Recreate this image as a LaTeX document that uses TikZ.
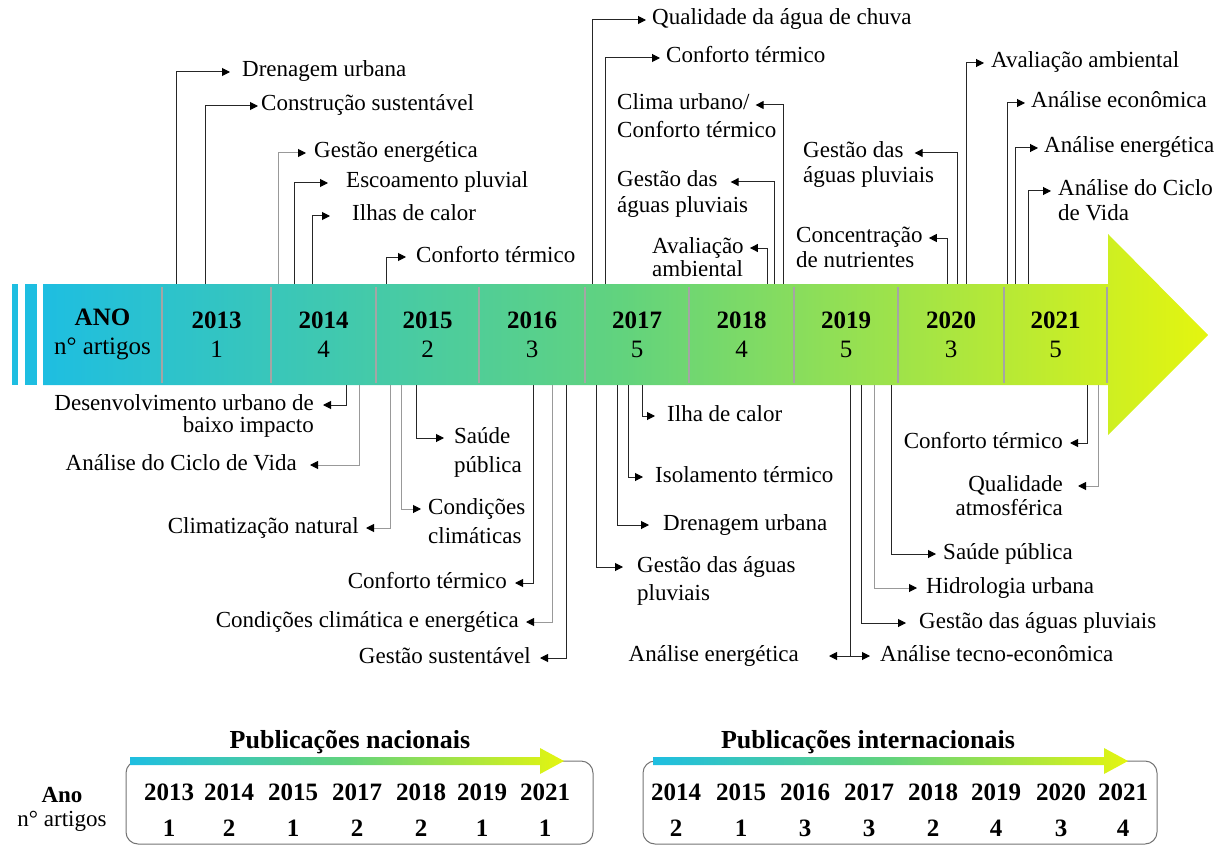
\documentclass[tikz,border=0pt]{standalone}
\usepackage{fontspec}
\setmainfont{Liberation Serif}
\usetikzlibrary{arrows.meta}
\definecolor{gA}{RGB}{30,190,225}
\definecolor{gB}{RGB}{98,211,125}
\definecolor{gC}{RGB}{228,245,15}
\definecolor{sepgray}{RGB}{165,165,165}
\begin{document}
\begin{tikzpicture}[x=1pt,y=-1pt,
  lbl/.style={font=\fontsize{23}{27}\selectfont, inner sep=0pt, text height=15pt, text depth=5pt},
  conn/.style={draw=black!85, line width=1pt, -{Triangle[length=8pt,width=8pt,color=black]}},
  conng/.style={conn, draw=black!40},
  cell/.style={minimum height=101pt, inner sep=0pt, align=center, font=\fontsize{25}{29}\selectfont},
  yr/.style={font=\bfseries\fontsize{25}{29}\selectfont, inner sep=0pt},
  ttl/.style={font=\bfseries\fontsize{26}{30}\selectfont, inner sep=0pt},
  boxline/.style={draw=black!55, line width=1pt, rounded corners=12pt},
  sepline/.style={draw=sepgray, line width=2.5pt}]
\useasboundingbox (0,0) rectangle (1215,845);

% ---- band ----
\fill[gA] (12,284) rectangle (18,385);
\fill[gA] (25,284) rectangle (37,385);
\shade[left color=gA, right color=gC, middle color=gB]
  (43,284) -- (1108,284) -- (1108,234) -- (1208,335) -- (1108,435) -- (1108,385) -- (43,385) -- cycle;
\foreach \x in {162,271,376,479,585,689,794,898,1004,1107}
  \draw[sepline] (\x,287) -- (\x,383);

\node[cell, minimum width=119pt] (cano) at (102.5,334.5) {\textbf{ANO}\\n° artigos};
\node[cell, minimum width=109pt] (c2013) at (216.5,334.5) {\textbf{2013}\\1};
\node[cell, minimum width=105pt] (c2014) at (323.5,334.5) {\textbf{2014}\\4};
\node[cell, minimum width=103pt] (c2015) at (427.5,334.5) {\textbf{2015}\\2};
\node[cell, minimum width=106pt] (c2016) at (532,334.5) {\textbf{2016}\\3};
\node[cell, minimum width=104pt] (c2017) at (637,334.5) {\textbf{2017}\\5};
\node[cell, minimum width=105pt] (c2018) at (741.5,334.5) {\textbf{2018}\\4};
\node[cell, minimum width=104pt] (c2019) at (846,334.5) {\textbf{2019}\\5};
\node[cell, minimum width=106pt] (c2020) at (951,334.5) {\textbf{2020}\\3};
\node[cell, minimum width=103pt] (c2021) at (1055.5,334.5) {\textbf{2021}\\5};

% ---- top labels ----
\node[lbl, anchor=west] (t1) at (242,72) {Drenagem urbana};
\draw[conn] ([xshift=15pt]c2013.north west) |- ([xshift=-12pt]t1.west);
\node[lbl, anchor=west] (t2) at (261,106) {Construção sustentável};
\draw[conn] ([xshift=44pt]c2013.north west) |- ([xshift=-3pt]t2.west);

\node[lbl, anchor=west] (t3) at (314,153) {Gestão energética};
\draw[conng] ([xshift=8pt]c2014.north west) |- ([xshift=-8pt]t3.west);
\node[lbl, anchor=west] (t4) at (346,183) {Escoamento pluvial};
\draw[conn] ([xshift=24pt]c2014.north west) |- ([xshift=-18pt]t4.west);
\node[lbl, anchor=west] (t5) at (352,216) {Ilhas de calor};
\draw[conn] ([xshift=42pt]c2014.north west) |- ([xshift=-22pt]t5.west);

\node[lbl, anchor=west] (t6) at (416,257) {Conforto térmico};
\draw[conn] ([xshift=11pt]c2015.north west) |- ([xshift=-10pt]t6.west);

\node[lbl, anchor=west] (t7) at (652,20) {Qualidade da água de chuva};
\draw[conn] ([xshift=8pt]c2017.north west) |- ([xshift=-6pt]t7.west);
\node[lbl, anchor=west] (t8) at (666,58) {Conforto térmico};
\draw[conn] ([xshift=21pt]c2017.north west) |- ([xshift=-6pt]t8.west);

\node[lbl, anchor=west] (t9) at (617,105) {Clima urbano/};
\node[lbl, anchor=west] (t9b) at (617,133) {Conforto térmico};
\draw[conn] ([xshift=95pt]c2018.north west) |- ([xshift=6pt]t9.east);
\node[lbl, anchor=west] (t10) at (617,182) {Gestão das};
\node[lbl, anchor=west] (t10b) at (617,207) {águas pluviais};
\draw[conn] ([xshift=86pt]c2018.north west) |- ([xshift=13pt]t10.east);
\node[lbl, anchor=west] (t11) at (652,248) {Avaliação};
\node[lbl, anchor=west] (t11b) at (652,271) {ambiental};
\draw[conn] ([xshift=79pt]c2018.north west) |- ([xshift=6pt]t11.east);

\node[lbl, anchor=west] (t12) at (991,63) {Avaliação ambiental};
\draw[conn] ([xshift=69pt]c2020.north west) |- ([xshift=-7pt]t12.west);
\node[lbl, anchor=west] (t13) at (803,153) {Gestão das};
\node[lbl, anchor=west] (t13b) at (803,178) {águas pluviais};
\draw[conn] ([xshift=60pt]c2020.north west) |- ([xshift=11pt]t13.east);
\node[lbl, anchor=west] (t14) at (796,238) {Concentração};
\node[lbl, anchor=west] (t14b) at (796,262) {de nutrientes};
\draw[conn] ([xshift=50pt]c2020.north west) |- ([xshift=6pt]t14.east);

\node[lbl, anchor=west] (t15) at (1031,103) {Análise econômica};
\draw[conn] ([xshift=4pt]c2021.north west) |- ([xshift=-6pt]t15.west);
\node[lbl, anchor=west] (t16) at (1044,148) {Análise energética};
\draw[conn] ([xshift=12pt]c2021.north west) |- ([xshift=-6pt]t16.west);
\node[lbl, anchor=west] (t17) at (1058,191) {Análise do Ciclo};
\node[lbl, anchor=west] (t17b) at (1058,215) {de Vida};
\draw[conn] ([xshift=25pt]c2021.north west) |- ([xshift=-7pt]t17.west);

% ---- bottom labels ----
\node[lbl, anchor=east] (b1) at (314,405) {Desenvolvimento urbano de};
\node[lbl, anchor=east] (b1b) at (314,427) {baixo impacto};
\draw[conn] ([xshift=76pt]c2014.south west) |- ([xshift=9pt]b1.east);
\node[lbl, anchor=east] (b2) at (297,465) {Análise do Ciclo de Vida};
\draw[conng] ([xshift=89pt]c2014.south west) |- ([xshift=13pt]b2.east);

\node[lbl, anchor=east] (b3) at (359,528) {Climatização natural};
\draw[conng] ([xshift=15pt]c2015.south west) |- ([xshift=7pt]b3.east);
\node[lbl, anchor=west] (b4) at (428,509) {Condições};
\node[lbl, anchor=west] (b4b) at (428,538) {climáticas};
\draw[conng] ([xshift=26pt]c2015.south west) |- ([xshift=-7pt]b4.west);
\node[lbl, anchor=west] (b5) at (454,438) {Saúde};
\node[lbl, anchor=west] (b5b) at (454,467) {pública};
\draw[conn] ([xshift=41pt]c2015.south west) |- ([xshift=-10pt]b5.west);

\node[lbl, anchor=east] (b6) at (507,583) {Conforto térmico};
\draw[conn] ([xshift=55pt]c2016.south west) |- ([xshift=8pt]b6.east);
\node[lbl, anchor=east] (b7) at (519,622) {Condições climática e energética};
\draw[conng] ([xshift=74pt]c2016.south west) |- ([xshift=7pt]b7.east);
\node[lbl, anchor=east] (b8) at (531,658) {Gestão sustentável};
\draw[conn] ([xshift=88pt]c2016.south west) |- ([xshift=9pt]b8.east);

\node[lbl, anchor=west] (b9) at (637,567) {Gestão das águas};
\node[lbl, anchor=west] (b9b) at (637,595) {pluviais};
\draw[conn] ([xshift=12pt]c2017.south west) |- ([xshift=-14pt]b9.west);
\node[lbl, anchor=west] (b10) at (663,525) {Drenagem urbana};
\draw[conn] ([xshift=33pt]c2017.south west) |- ([xshift=-14pt]b10.west);
\node[lbl, anchor=west] (b11) at (655,477) {Isolamento térmico};
\draw[conn] ([xshift=44pt]c2017.south west) |- ([xshift=-12pt]b11.west);
\node[lbl, anchor=west] (b12) at (667,416) {Ilha de calor};
\draw[conn] ([xshift=58pt]c2017.south west) |- ([xshift=-12pt]b12.west);

\node[lbl, anchor=east] (b13a) at (799,656) {Análise energética};
\node[lbl, anchor=west] (b13b) at (880,656) {Análise tecno-econômica};
\draw[conn] ([xshift=57pt]c2019.south west) |- ([xshift=30pt]b13a.east);
\draw[conn] ([xshift=57pt]c2019.south west) |- ([xshift=-10pt]b13b.west);
\node[lbl, anchor=west] (b14) at (919,623) {Gestão das águas pluviais};
\draw[conn] ([xshift=68pt]c2019.south west) |- ([xshift=-13pt]b14.west);
\node[lbl, anchor=west] (b15) at (926,588) {Hidrologia urbana};
\draw[conng] ([xshift=81pt]c2019.south west) |- ([xshift=-9pt]b15.west);
\node[lbl, anchor=west] (b16) at (943,554) {Saúde pública};
\draw[conn] ([xshift=98pt]c2019.south west) |- ([xshift=-7pt]b16.west);

\node[lbl, anchor=east] (b17) at (1063,443) {Conforto térmico};
\draw[conn] ([xshift=84pt]c2021.south west) |- ([xshift=7pt]b17.east);
\node[lbl, anchor=east] (b18) at (1063,486) {Qualidade};
\node[lbl, anchor=east] (b18b) at (1063,510) {atmosférica};
\draw[conng] ([xshift=95pt]c2021.south west) |- ([xshift=15pt]b18.east);

% ---- legend ----
\draw[boxline] (126,761) rectangle (593,844);
\draw[boxline] (643,761) rectangle (1157,844);
\shade[left color=gA, right color=gC, middle color=gB]
  (130,757) -- (540,757) -- (540,748) -- (564,761) -- (540,774) -- (540,765) -- (130,765) -- cycle;
\shade[left color=gA, right color=gC, middle color=gB]
  (653,757) -- (1104,757) -- (1104,748) -- (1128,761) -- (1104,774) -- (1104,765) -- (653,765) -- cycle;
\node[ttl] (ln) at (350,742) {Publicações nacionais};
\node[ttl] (li) at (868,742) {Publicações internacionais};

\node[font=\bfseries\fontsize{23}{27}\selectfont, inner sep=0pt] (lano) at (62,795) {Ano};
\node[font=\fontsize{23}{27}\selectfont, inner sep=0pt] (lart) at (62,821) {n° artigos};

\foreach \x/\y/\n [count=\i] in {169/2013/1, 229/2014/2, 293/2015/1, 357/2017/2, 421/2018/2, 482/2019/1, 545/2021/1} {
  \node[yr] (ny\i) at (\x,792) {\y};
  \node[yr] (nn\i) at (\x,828) {\n};
}
\foreach \x/\y/\n [count=\i] in {676/2014/2, 741/2015/1, 805/2016/3, 869/2017/3, 933/2018/2, 996/2019/4, 1061/2020/3, 1123/2021/4} {
  \node[yr] (iy\i) at (\x,792) {\y};
  \node[yr] (in\i) at (\x,828) {\n};
}
\end{tikzpicture}
\end{document}
